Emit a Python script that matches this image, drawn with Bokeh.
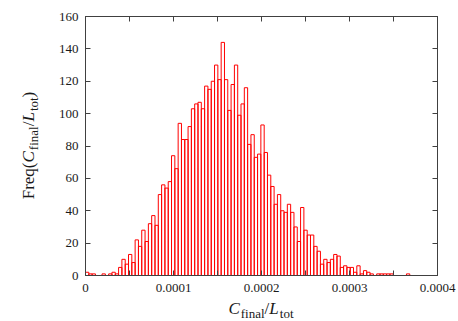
import numpy as np
from bokeh.plotting import figure
from bokeh.models import Range1d, LinearAxis, FixedTicker, CustomJSTickFormatter, Div
from bokeh.layouts import row, column
from bokeh.embed import file_html
from bokeh.resources import INLINE

# ---- data ----
bin_width = 3.76e-6
counts = [2, 1, 1, 0, 0, 1, 0, 1, 2, 1,
          5, 10, 7, 13, 8, 22, 18, 28, 21, 32,
          37, 31, 50, 56, 54, 58, 74, 66, 94, 84,
          84, 92, 103, 106, 107, 103, 117, 115, 120, 130,
          121, 144, 121, 102, 118, 130, 99, 106, 116, 81,
          87, 73, 75, 93, 76, 62, 55, 44, 50, 40,
          39, 44, 39, 30, 21, 42, 28, 25, 25, 18,
          15, 7, 10, 8, 10, 13, 12, 5, 6, 5,
          5, 2, 6, 1, 3, 2, 1, 0, 1, 1,
          1, 1, 1, 0, 0, 0, 0, 1]
x_ticks = [0.0, 0.0001, 0.0002, 0.0003, 0.0004]
x_tick_labels = ["0", "0.0001", "0.0002", "0.0003", "0.0004"]
x_minor_ticks = [0.00005, 0.00015, 0.00025, 0.00035]
y_ticks = [0, 20, 40, 60, 80, 100, 120, 140, 160]

left = np.arange(len(counts)) * bin_width
right = left + bin_width

FONT = "Liberation Serif"
AXC = "#404040"
TXT = "#1a1a1a"

YLAB_W = 40          # width of the y-title strip
PLOT_W, PLOT_H = 418, 299
XLAB_H = 22

p = figure(width=PLOT_W, height=PLOT_H, output_backend="svg", toolbar_location=None,
           x_range=Range1d(0, 0.0004), y_range=Range1d(0, 160),
           x_axis_type=None, y_axis_type=None,
           min_border_left=45, min_border_right=21, min_border_top=16, min_border_bottom=24)
p.grid.visible = False
p.outline_line_color = AXC
p.background_fill_color = "white"
p.border_fill_color = "white"

p.quad(left=left, right=right, bottom=0, top=counts,
       fill_color=None, line_color="#ff0000", line_width=1)


def mk_axis(ticker, show_labels):
    ax = LinearAxis(ticker=ticker)
    ax.axis_line_color = AXC
    ax.major_tick_line_color = AXC
    ax.minor_tick_line_color = AXC
    ax.major_tick_in = 5
    ax.major_tick_out = 0
    ax.minor_tick_in = 5
    ax.minor_tick_out = 0
    ax.major_label_text_font = FONT
    ax.major_label_text_color = TXT
    if show_labels:
        ax.major_label_text_font_size = "13px"
    else:
        ax.formatter = CustomJSTickFormatter(code="return ''")
        ax.major_label_text_font_size = "1px"
        ax.major_label_text_color = None
        ax.major_label_standoff = 0
    return ax


xt = FixedTicker(ticks=x_ticks, minor_ticks=x_minor_ticks)
yt = FixedTicker(ticks=y_ticks, minor_ticks=[])

bx = mk_axis(xt, True)
bx.major_label_overrides = {t: s for t, s in zip(x_ticks, x_tick_labels)}
bx.major_label_standoff = 8
p.add_layout(bx, "below")

ly = mk_axis(yt, True)
ly.major_label_standoff = 7
p.add_layout(ly, "left")

p.add_layout(mk_axis(FixedTicker(ticks=x_ticks, minor_ticks=x_minor_ticks), False), "above")
p.add_layout(mk_axis(FixedTicker(ticks=y_ticks, minor_ticks=[]), False), "right")

# ---- axis titles (HTML so that subscripts are real text) ----
SUBSTYLE = "font-size:13px;vertical-align:-4px;font-style:normal"
ITSTYLE = "font-style:italic;margin-right:1px"
ratio_html = (f'<span style="{ITSTYLE}">C</span><span style="{SUBSTYLE}">final</span>/'
              f'<span style="{ITSTYLE}">L</span><span style="{SUBSTYLE}">tot</span>')
BASE = f"font-family:'{FONT}',serif;font-size:17px;line-height:1;color:{TXT};white-space:nowrap;"

ylab_html = (f'<div style="{BASE}width:{PLOT_H}px;height:{YLAB_W}px;box-sizing:border-box;'
             f'padding-top:20px;padding-left:8px;text-align:center;'
             f'transform-origin:0 0;transform:translate(0,{PLOT_H}px) rotate(-90deg);">'
             f'Freq({ratio_html})</div>')
xlab_html = (f'<div style="{BASE}width:352px;margin-left:85px;padding-top:1px;text-align:center;">'
             f'{ratio_html}</div>')

ydiv = Div(text=ylab_html, width=YLAB_W, height=PLOT_H, margin=0)
xdiv = Div(text=xlab_html, width=YLAB_W + PLOT_W, height=XLAB_H, margin=0)

layout = column(row(ydiv, p, spacing=0), xdiv, spacing=0)

open("out.html", "w").write(file_html(layout, INLINE))
